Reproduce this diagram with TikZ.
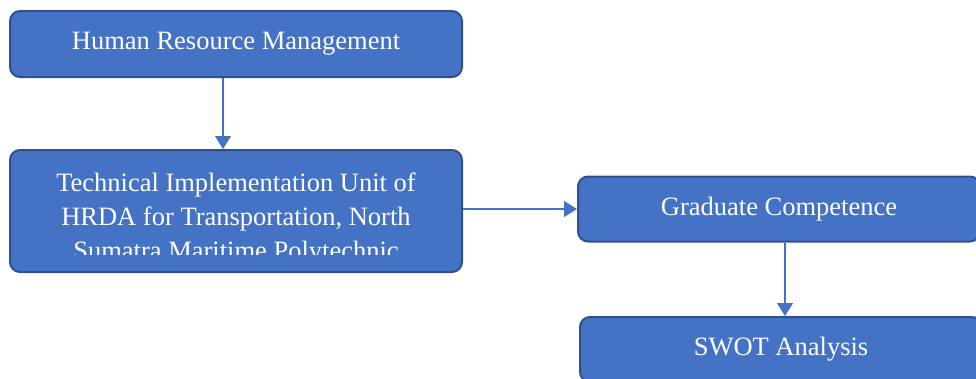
\documentclass[tikz,border=0pt]{standalone}
\usepackage{fontspec}
\setmainfont{Liberation Serif}
\usetikzlibrary{arrows.meta}
\definecolor{boxfill}{HTML}{4472C4}
\definecolor{boxline}{HTML}{2F528F}
\tikzset{
  stepbox/.style={draw=boxline, line width=2pt, fill=boxfill, rounded corners=10pt,
    text=white, font=\fontsize{26.5}{34}\selectfont, inner sep=0pt},
  link/.style={draw=boxfill, line width=1.3pt, -{Triangle[width=16pt,length=13pt]}}
}
\begin{document}
\begin{tikzpicture}[x=1pt,y=-1pt]
\clip (0,0) rectangle (976,378);

\node[stepbox, minimum width=452pt, minimum height=66pt] (hrm) at (236,44) {Human Resource Management};
\node[stepbox, minimum width=452pt, minimum height=122pt] (unit) at (236,211) {};
\node[stepbox, minimum width=402pt, minimum height=65pt] (comp) at (779,209) {Graduate Competence};
\node[stepbox, minimum width=402pt, minimum height=65pt] (swot) at (781,349.5) {SWOT Analysis};

% text of the unit box runs past its lower edge
\begin{scope}
\clip (10,150) rectangle (462,254);
\node[text=white, font=\fontsize{26.5}{34}\selectfont, align=center, inner sep=0pt, anchor=north]
  (unittext) at (236,172.7) {Technical Implementation Unit of\\HRDA for Transportation, North\\Sumatra Maritime Polytechnic};
\end{scope}

\draw[link] ([xshift=-13pt]hrm.south) -- ([xshift=-13pt]unit.north);
\draw[link] (unit.east |- comp.west) -- (comp.west);
\draw[link] ([xshift=6pt]comp.south) -- ([xshift=4pt]swot.north);
\end{tikzpicture}
\end{document}
